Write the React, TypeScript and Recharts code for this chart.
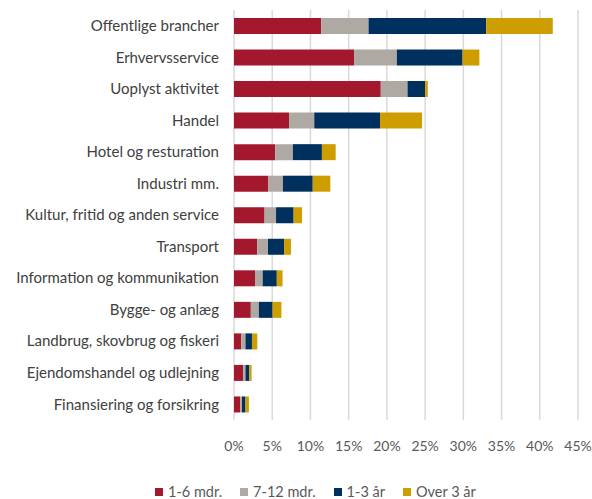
import { BarChart, Bar, XAxis, YAxis, CartesianGrid, Legend } from "recharts";

const categories = [
  "Offentlige brancher",
  "Erhvervsservice",
  "Uoplyst aktivitet",
  "Handel",
  "Hotel og resturation",
  "Industri mm.",
  "Kultur, fritid og anden service",
  "Transport",
  "Information og kommunikation",
  "Bygge- og anlæg",
  "Landbrug, skovbrug og fiskeri",
  "Ejendomshandel og udlejning",
  "Finansiering og forsikring",
];

const upTo6m = [11.4, 15.7, 19.2, 7.2, 5.4, 4.5, 4.0, 3.05, 2.75, 2.2, 0.95, 1.2, 0.8];
const m7to12 = [6.2, 5.6, 3.5, 3.3, 2.3, 1.9, 1.5, 1.4, 1.0, 1.05, 0.55, 0.3, 0.25];
const y1to3 = [15.4, 8.6, 2.3, 8.6, 3.8, 3.9, 2.3, 2.1, 1.85, 1.8, 0.85, 0.5, 0.45];
const over3y = [8.7, 2.2, 0.35, 5.5, 1.8, 2.3, 1.1, 0.9, 0.75, 1.15, 0.7, 0.3, 0.45];

const xTicks = [0, 5, 10, 15, 20, 25, 30, 35, 40, 45];

const colors = {
  a: "#A4182E",
  b: "#AEA9A2",
  c: "#00305E",
  d: "#CE9E00",
};

const legendItems = [
  { name: "1-6 mdr.", color: colors.a },
  { name: "7-12 mdr.", color: colors.b },
  { name: "1-3 år", color: colors.c },
  { name: "Over 3 år", color: colors.d },
];

const data = categories.map((name, i) => ({
  name,
  a: upTo6m[i],
  b: m7to12[i],
  c: y1to3[i],
  d: over3y[i],
}));

const FONT = "Lato, 'Open Sans', sans-serif";

function LegendBox() {
  return (
    <div
      style={{
        display: "flex",
        paddingLeft: 155,
        paddingTop: 16,
        height: 30,
        boxSizing: "border-box",
        fontFamily: FONT,
        fontSize: 14.5,
        lineHeight: "16px",
        color: "#595959",
      }}
    >
      {legendItems.map((s) => (
        <div key={s.name} style={{ display: "flex", alignItems: "center", marginRight: 18 }}>
          <span style={{ width: 8, height: 8, background: s.color, marginRight: 5, display: "inline-block" }} />
          <span>{s.name}</span>
        </div>
      ))}
    </div>
  );
}

export default function App() {
  return (
    <div style={{ position: "absolute", left: 0, top: 0, background: "#fff" }}>
      <BarChart
        width={592}
        height={499}
        data={data}
        layout="vertical"
        barSize={16}
        margin={{ top: 10, right: 14, left: 0, bottom: 0 }}
      >
        <CartesianGrid horizontal={false} stroke="#D9D9D9" strokeWidth={1.5} />
        <XAxis
          type="number"
          domain={[0, 45]}
          ticks={xTicks}
          tickFormatter={(v) => `${v}%`}
          axisLine={false}
          tickLine={false}
          tickMargin={15}
          height={49}
          tick={{ fill: "#595959", fontSize: 14, fontFamily: FONT }}
        />
        <YAxis
          type="category"
          dataKey="name"
          width={234}
          axisLine={false}
          tickLine={false}
          tickMargin={9}
          interval={0}
          tick={{ fill: "#404040", fontSize: 15, fontFamily: FONT }}
        />
        <Legend verticalAlign="bottom" content={() => <LegendBox />} wrapperStyle={{ left: 0, width: 592 }} />
        <Bar dataKey="a" name="1-6 mdr." stackId="s" fill={colors.a} isAnimationActive={false} />
        <Bar dataKey="b" name="7-12 mdr." stackId="s" fill={colors.b} isAnimationActive={false} />
        <Bar dataKey="c" name="1-3 år" stackId="s" fill={colors.c} isAnimationActive={false} />
        <Bar dataKey="d" name="Over 3 år" stackId="s" fill={colors.d} isAnimationActive={false} />
      </BarChart>
    </div>
  );
}
